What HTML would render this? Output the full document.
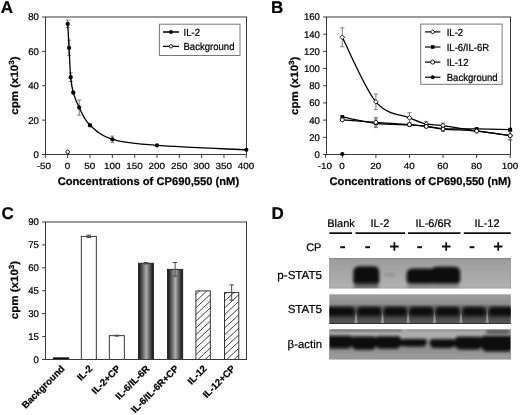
<!DOCTYPE html>
<html lang="en"><head><meta charset="utf-8"><title>CP690,550 figure</title>
<style>html,body{margin:0;padding:0;background:#fff;}body{width:520px;height:415px;overflow:hidden;}svg{display:block;font-family:"Liberation Sans", Arial, sans-serif;fill:#000;will-change:transform;filter:grayscale(1);text-rendering:geometricPrecision;}text{stroke:#000;stroke-width:0.22px;}</style>
</head><body>
<svg width="520" height="415" viewBox="0 0 520 415">
<defs>
<linearGradient id="cyl" x1="0" y1="0" x2="1" y2="0"><stop offset="0" stop-color="#141414"/><stop offset="0.1" stop-color="#2c2c2c"/><stop offset="0.3" stop-color="#686868"/><stop offset="0.52" stop-color="#adadad"/><stop offset="0.72" stop-color="#686868"/><stop offset="0.9" stop-color="#2c2c2c"/><stop offset="1" stop-color="#141414"/></linearGradient>
<pattern id="hatch" width="6" height="6" patternUnits="userSpaceOnUse" patternTransform="rotate(-42) translate(0,3.83)"><rect width="6" height="6" fill="#fff"/><path d="M-1,3 H8" stroke="#2e2e2e" stroke-width="1.05"/></pattern>
<filter id="b1" x="-20%" y="-40%" width="140%" height="180%"><feGaussianBlur stdDeviation="1.5"/></filter>
<filter id="b2" x="-20%" y="-40%" width="140%" height="180%"><feGaussianBlur stdDeviation="1.8"/></filter>
<filter id="b3" x="-20%" y="-40%" width="140%" height="180%"><feGaussianBlur stdDeviation="0.7"/></filter>
<linearGradient id="gP" x1="0" y1="0" x2="0" y2="1"><stop offset="0" stop-color="#9c9c9c"/><stop offset="1" stop-color="#b2b2b2"/></linearGradient>
<linearGradient id="gS" x1="0" y1="0" x2="0" y2="1"><stop offset="0" stop-color="#9e9e9e"/><stop offset="0.32" stop-color="#8e8e8e"/><stop offset="0.44" stop-color="#646464"/><stop offset="0.74" stop-color="#464646"/><stop offset="1" stop-color="#585858"/></linearGradient>
<linearGradient id="gB" x1="0" y1="0" x2="0" y2="1"><stop offset="0" stop-color="#ababab"/><stop offset="0.2" stop-color="#adadad"/><stop offset="0.62" stop-color="#8c8c8c"/><stop offset="1" stop-color="#9e9e9e"/></linearGradient>
<clipPath id="cP"><rect x="329.3" y="258" width="181.5" height="30.3"/></clipPath>
<clipPath id="cS"><rect x="329.3" y="294.3" width="181.5" height="29.5"/></clipPath>
<clipPath id="cB"><rect x="329.3" y="329.3" width="181.5" height="30"/></clipPath>
</defs>
<rect width="520" height="415" fill="#fff"/>
<g id="panelA">
<text x="0.8" y="13.1" font-size="17" font-weight="bold" text-anchor="start" >A</text>
<rect x="45.5" y="17" width="201" height="137.5" fill="none" stroke="#3a3a3a" stroke-width="1"/>
<path d="M42.1,154.5 H45.5" stroke="#3a3a3a" stroke-width="1"/>
<text transform="translate(38.9,157.9) scale(1,1.02)" font-size="9.6" font-weight="normal" text-anchor="end" >0</text>
<path d="M42.1,120.12 H45.5" stroke="#3a3a3a" stroke-width="1"/>
<text transform="translate(38.9,123.53) scale(1,1.02)" font-size="9.6" font-weight="normal" text-anchor="end" >20</text>
<path d="M42.1,85.75 H45.5" stroke="#3a3a3a" stroke-width="1"/>
<text transform="translate(38.9,89.15) scale(1,1.02)" font-size="9.6" font-weight="normal" text-anchor="end" >40</text>
<path d="M42.1,51.38 H45.5" stroke="#3a3a3a" stroke-width="1"/>
<text transform="translate(38.9,54.77) scale(1,1.02)" font-size="9.6" font-weight="normal" text-anchor="end" >60</text>
<path d="M42.1,17 H45.5" stroke="#3a3a3a" stroke-width="1"/>
<text transform="translate(38.9,20.4) scale(1,1.02)" font-size="9.6" font-weight="normal" text-anchor="end" >80</text>
<path d="M45.38,154.5 V157.9" stroke="#3a3a3a" stroke-width="1"/>
<text transform="translate(43.77,168.5) scale(1,0.9)" font-size="9.9" font-weight="normal" text-anchor="middle" >-50</text>
<path d="M67.7,154.5 V157.9" stroke="#3a3a3a" stroke-width="1"/>
<text transform="translate(67.5,168.5) scale(1,0.9)" font-size="9.9" font-weight="normal" text-anchor="middle" >0</text>
<path d="M90.03,154.5 V157.9" stroke="#3a3a3a" stroke-width="1"/>
<text transform="translate(89.83,168.5) scale(1,0.9)" font-size="9.9" font-weight="normal" text-anchor="middle" >50</text>
<path d="M112.35,154.5 V157.9" stroke="#3a3a3a" stroke-width="1"/>
<text transform="translate(112.15,168.5) scale(1,0.9)" font-size="9.9" font-weight="normal" text-anchor="middle" >100</text>
<path d="M134.68,154.5 V157.9" stroke="#3a3a3a" stroke-width="1"/>
<text transform="translate(134.48,168.5) scale(1,0.9)" font-size="9.9" font-weight="normal" text-anchor="middle" >150</text>
<path d="M157,154.5 V157.9" stroke="#3a3a3a" stroke-width="1"/>
<text transform="translate(156.8,168.5) scale(1,0.9)" font-size="9.9" font-weight="normal" text-anchor="middle" >200</text>
<path d="M179.33,154.5 V157.9" stroke="#3a3a3a" stroke-width="1"/>
<text transform="translate(179.13,168.5) scale(1,0.9)" font-size="9.9" font-weight="normal" text-anchor="middle" >250</text>
<path d="M201.65,154.5 V157.9" stroke="#3a3a3a" stroke-width="1"/>
<text transform="translate(201.45,168.5) scale(1,0.9)" font-size="9.9" font-weight="normal" text-anchor="middle" >300</text>
<path d="M223.98,154.5 V157.9" stroke="#3a3a3a" stroke-width="1"/>
<text transform="translate(223.78,168.5) scale(1,0.9)" font-size="9.9" font-weight="normal" text-anchor="middle" >350</text>
<path d="M246.3,154.5 V157.9" stroke="#3a3a3a" stroke-width="1"/>
<text transform="translate(246.1,168.5) scale(1,0.9)" font-size="9.9" font-weight="normal" text-anchor="middle" >400</text>
<text transform="translate(18,85.6) scale(1,1.08) rotate(-90)" font-size="10.7" font-weight="bold" text-anchor="middle">cpm (x10<tspan dy="-3.6" font-size="7.49">3</tspan><tspan dy="3.6">)</tspan></text>
<text x="148.4" y="185.1" font-size="11.2" font-weight="bold" text-anchor="middle" >Concentrations of CP690,550 (nM)</text>
<path d="M67.7,20.09 V27.66 M65.7,20.09 H69.7 M65.7,27.66 H69.7" stroke="#707070" stroke-width="0.9" fill="none"/>
<path d="M69.08,40.2 V55.67 M67.08,40.2 H71.08 M67.08,55.67 H71.08" stroke="#707070" stroke-width="0.9" fill="none"/>
<path d="M70.69,72.86 V81.45 M68.69,72.86 H72.69 M68.69,81.45 H72.69" stroke="#707070" stroke-width="0.9" fill="none"/>
<path d="M73.28,91.25 V94 M71.28,91.25 H75.28 M71.28,94 H75.28" stroke="#707070" stroke-width="0.9" fill="none"/>
<path d="M79.22,100.02 V115.14 M77.22,100.02 H81.22 M77.22,115.14 H81.22" stroke="#707070" stroke-width="0.9" fill="none"/>
<path d="M90.03,123.91 V126.66 M88.03,123.91 H92.03 M88.03,126.66 H92.03" stroke="#707070" stroke-width="0.9" fill="none"/>
<path d="M112.35,136.11 V142.64 M110.35,136.11 H114.35 M110.35,142.64 H114.35" stroke="#707070" stroke-width="0.9" fill="none"/>
<path d="M67.7,23.88 C67.93,27.89 68.59,39.06 69.08,47.94 C69.58,56.82 69.99,69.71 70.69,77.16 C71.39,84.6 71.86,87.55 73.28,92.62 C74.7,97.7 76.43,102.14 79.22,107.58 C82.01,113.02 84.5,119.98 90.03,125.28 C95.55,130.58 101.19,136.02 112.35,139.38 C123.51,142.73 134.68,143.64 157,145.39 C179.32,147.14 231.42,149.11 246.3,149.86" fill="none" stroke="#000" stroke-width="1.3" stroke-linejoin="round"/>
<circle cx="67.7" cy="23.88" r="2.1" fill="#000"/>
<circle cx="69.08" cy="47.94" r="2.1" fill="#000"/>
<circle cx="70.69" cy="77.16" r="2.1" fill="#000"/>
<circle cx="73.28" cy="92.62" r="2.1" fill="#000"/>
<circle cx="79.22" cy="107.58" r="2.1" fill="#000"/>
<circle cx="90.03" cy="125.28" r="2.1" fill="#000"/>
<circle cx="112.35" cy="139.38" r="2.1" fill="#000"/>
<circle cx="157" cy="145.39" r="2.1" fill="#000"/>
<circle cx="246.3" cy="149.86" r="2.1" fill="#000"/>
<circle cx="67.7" cy="151.92" r="1.8" fill="#fff" stroke="#000" stroke-width="0.9"/>
<rect x="159.4" y="24.2" width="80.6" height="31.3" fill="#fff" stroke="#787878" stroke-width="1"/>
<path d="M163,32 H179 M163,46.3 H179" stroke="#000" stroke-width="1.3"/>
<circle cx="171" cy="32" r="2.0" fill="#000"/>
<circle cx="171" cy="46.3" r="1.7" fill="#fff" stroke="#000" stroke-width="0.9"/>
<text transform="translate(183.5,35.8) scale(1,1.08)" font-size="9.55" font-weight="normal" text-anchor="start" >IL-2</text>
<text transform="translate(183.5,50.1) scale(1,1.08)" font-size="9.55" font-weight="normal" text-anchor="start" >Background</text>
</g>
<g id="panelB">
<text x="270.9" y="13.3" font-size="17" font-weight="bold" text-anchor="start" >B</text>
<rect x="326.5" y="17" width="184" height="137.5" fill="none" stroke="#3a3a3a" stroke-width="1"/>
<path d="M323.1,154.5 H326.5" stroke="#3a3a3a" stroke-width="1"/>
<text transform="translate(319.9,157.9) scale(1,1.02)" font-size="9.6" font-weight="normal" text-anchor="end" >0</text>
<path d="M323.1,137.31 H326.5" stroke="#3a3a3a" stroke-width="1"/>
<text transform="translate(319.9,140.71) scale(1,1.02)" font-size="9.6" font-weight="normal" text-anchor="end" >20</text>
<path d="M323.1,120.12 H326.5" stroke="#3a3a3a" stroke-width="1"/>
<text transform="translate(319.9,123.53) scale(1,1.02)" font-size="9.6" font-weight="normal" text-anchor="end" >40</text>
<path d="M323.1,102.94 H326.5" stroke="#3a3a3a" stroke-width="1"/>
<text transform="translate(319.9,106.34) scale(1,1.02)" font-size="9.6" font-weight="normal" text-anchor="end" >60</text>
<path d="M323.1,85.75 H326.5" stroke="#3a3a3a" stroke-width="1"/>
<text transform="translate(319.9,89.15) scale(1,1.02)" font-size="9.6" font-weight="normal" text-anchor="end" >80</text>
<path d="M323.1,68.56 H326.5" stroke="#3a3a3a" stroke-width="1"/>
<text transform="translate(319.9,71.96) scale(1,1.02)" font-size="9.6" font-weight="normal" text-anchor="end" >100</text>
<path d="M323.1,51.38 H326.5" stroke="#3a3a3a" stroke-width="1"/>
<text transform="translate(319.9,54.77) scale(1,1.02)" font-size="9.6" font-weight="normal" text-anchor="end" >120</text>
<path d="M323.1,34.19 H326.5" stroke="#3a3a3a" stroke-width="1"/>
<text transform="translate(319.9,37.59) scale(1,1.02)" font-size="9.6" font-weight="normal" text-anchor="end" >140</text>
<path d="M323.1,17 H326.5" stroke="#3a3a3a" stroke-width="1"/>
<text transform="translate(319.9,20.4) scale(1,1.02)" font-size="9.6" font-weight="normal" text-anchor="end" >160</text>
<path d="M325.51,154.5 V157.9" stroke="#3a3a3a" stroke-width="1"/>
<text transform="translate(324.91,168.5) scale(1,0.9)" font-size="9.9" font-weight="normal" text-anchor="middle" >-10</text>
<path d="M342.3,154.5 V157.9" stroke="#3a3a3a" stroke-width="1"/>
<text transform="translate(342.1,168.5) scale(1,0.9)" font-size="9.9" font-weight="normal" text-anchor="middle" >0</text>
<path d="M375.88,154.5 V157.9" stroke="#3a3a3a" stroke-width="1"/>
<text transform="translate(375.68,168.5) scale(1,0.9)" font-size="9.9" font-weight="normal" text-anchor="middle" >20</text>
<path d="M409.46,154.5 V157.9" stroke="#3a3a3a" stroke-width="1"/>
<text transform="translate(409.26,168.5) scale(1,0.9)" font-size="9.9" font-weight="normal" text-anchor="middle" >40</text>
<path d="M443.04,154.5 V157.9" stroke="#3a3a3a" stroke-width="1"/>
<text transform="translate(442.84,168.5) scale(1,0.9)" font-size="9.9" font-weight="normal" text-anchor="middle" >60</text>
<path d="M476.62,154.5 V157.9" stroke="#3a3a3a" stroke-width="1"/>
<text transform="translate(476.42,168.5) scale(1,0.9)" font-size="9.9" font-weight="normal" text-anchor="middle" >80</text>
<path d="M510.2,154.5 V157.9" stroke="#3a3a3a" stroke-width="1"/>
<text transform="translate(510,168.5) scale(1,0.9)" font-size="9.9" font-weight="normal" text-anchor="middle" >100</text>
<text transform="translate(297.9,85.8) scale(1,1.08) rotate(-90)" font-size="10.7" font-weight="bold" text-anchor="middle">cpm (x10<tspan dy="-3.6" font-size="7.49">3</tspan><tspan dy="3.6">)</tspan></text>
<text x="420.3" y="185.1" font-size="11.2" font-weight="bold" text-anchor="middle" >Concentrations of CP690,550 (nM)</text>
<path d="M342.3,27.83 V46.73 M340.3,27.83 H344.3 M340.3,46.73 H344.3" stroke="#707070" stroke-width="0.9" fill="none"/>
<path d="M375.88,94.09 V109.55 M373.88,94.09 H377.88 M373.88,109.55 H377.88" stroke="#707070" stroke-width="0.9" fill="none"/>
<path d="M409.46,112.73 V123.05 M407.46,112.73 H411.46 M407.46,123.05 H411.46" stroke="#707070" stroke-width="0.9" fill="none"/>
<path d="M426.25,121.41 V126.57 M424.25,121.41 H428.25 M424.25,126.57 H428.25" stroke="#707070" stroke-width="0.9" fill="none"/>
<path d="M443.04,123.05 V128.2 M441.04,123.05 H445.04 M441.04,128.2 H445.04" stroke="#707070" stroke-width="0.9" fill="none"/>
<path d="M510.2,131.3 V139.89 M508.2,131.3 H512.2 M508.2,139.89 H512.2" stroke="#707070" stroke-width="0.9" fill="none"/>
<path d="M375.88,119.01 V127.6 M373.88,119.01 H377.88 M373.88,127.6 H377.88" stroke="#707070" stroke-width="0.9" fill="none"/>
<path d="M375.88,117.63 V127.09 M373.88,117.63 H377.88 M373.88,127.09 H377.88" stroke="#707070" stroke-width="0.9" fill="none"/>
<path d="M443.04,126.48 V131.64 M441.04,126.48 H445.04 M441.04,131.64 H445.04" stroke="#707070" stroke-width="0.9" fill="none"/>
<path d="M510.2,131.3 V139.89 M508.2,131.3 H512.2 M508.2,139.89 H512.2" stroke="#707070" stroke-width="0.9" fill="none"/>
<path d="M342.3,37.28 C347.9,48.04 364.69,88.39 375.88,101.82 C387.07,115.26 401.07,114.2 409.46,117.89 C417.86,121.59 420.65,122.7 426.25,123.99 C431.85,125.28 434.64,124.48 443.04,125.62 C451.43,126.77 465.43,129.21 476.62,130.87 C487.81,132.53 504.6,134.81 510.2,135.59" fill="none" stroke="#000" stroke-width="1.3"/>
<path d="M342.3,34.98 L344.6,37.28 L342.3,39.58 L340,37.28 Z" fill="#fff" stroke="#000" stroke-width="0.9"/>
<path d="M375.88,99.52 L378.18,101.82 L375.88,104.12 L373.58,101.82 Z" fill="#fff" stroke="#000" stroke-width="0.9"/>
<path d="M409.46,115.59 L411.76,117.89 L409.46,120.19 L407.16,117.89 Z" fill="#fff" stroke="#000" stroke-width="0.9"/>
<path d="M426.25,121.69 L428.55,123.99 L426.25,126.29 L423.95,123.99 Z" fill="#fff" stroke="#000" stroke-width="0.9"/>
<path d="M443.04,123.33 L445.34,125.62 L443.04,127.92 L440.74,125.62 Z" fill="#fff" stroke="#000" stroke-width="0.9"/>
<path d="M476.62,128.57 L478.92,130.87 L476.62,133.17 L474.32,130.87 Z" fill="#fff" stroke="#000" stroke-width="0.9"/>
<path d="M510.2,133.29 L512.5,135.59 L510.2,137.89 L507.9,135.59 Z" fill="#fff" stroke="#000" stroke-width="0.9"/>
<path d="M342.3,116.95 C347.9,118.01 364.69,121.99 375.88,123.3 C387.07,124.62 401.07,124.38 409.46,124.85 C417.86,125.32 420.65,125.5 426.25,126.14 C431.85,126.79 434.64,128.26 443.04,128.72 C451.43,129.18 465.43,128.73 476.62,128.89 C487.81,129.05 504.6,129.54 510.2,129.66" fill="none" stroke="#000" stroke-width="1.3"/>
<rect x="340.4" y="115.05" width="3.8" height="3.8" fill="#000"/>
<rect x="373.98" y="121.4" width="3.8" height="3.8" fill="#000"/>
<rect x="407.56" y="122.95" width="3.8" height="3.8" fill="#000"/>
<rect x="424.35" y="124.24" width="3.8" height="3.8" fill="#000"/>
<rect x="441.14" y="126.82" width="3.8" height="3.8" fill="#000"/>
<rect x="474.72" y="126.99" width="3.8" height="3.8" fill="#000"/>
<rect x="508.3" y="127.76" width="3.8" height="3.8" fill="#000"/>
<path d="M342.3,119.78 C347.9,120.21 364.69,121.56 375.88,122.36 C387.07,123.16 401.07,123.91 409.46,124.59 C417.86,125.28 420.65,125.74 426.25,126.48 C431.85,127.23 434.64,128.29 443.04,129.06 C451.43,129.84 465.43,130.04 476.62,131.12 C487.81,132.21 504.6,134.85 510.2,135.59" fill="none" stroke="#000" stroke-width="1.3"/>
<circle cx="342.3" cy="119.78" r="1.9999999999999998" fill="#fff" stroke="#000" stroke-width="0.9"/>
<circle cx="375.88" cy="122.36" r="1.9999999999999998" fill="#fff" stroke="#000" stroke-width="0.9"/>
<circle cx="409.46" cy="124.59" r="1.9999999999999998" fill="#fff" stroke="#000" stroke-width="0.9"/>
<circle cx="426.25" cy="126.48" r="1.9999999999999998" fill="#fff" stroke="#000" stroke-width="0.9"/>
<circle cx="443.04" cy="129.06" r="1.9999999999999998" fill="#fff" stroke="#000" stroke-width="0.9"/>
<circle cx="476.62" cy="131.12" r="1.9999999999999998" fill="#fff" stroke="#000" stroke-width="0.9"/>
<circle cx="510.2" cy="135.59" r="1.9999999999999998" fill="#fff" stroke="#000" stroke-width="0.9"/>
<circle cx="342.3" cy="153.98" r="2.1" fill="#000"/>
<rect x="420.7" y="24.1" width="81.4" height="60.2" fill="#fff" stroke="#787878" stroke-width="1"/>
<path d="M425,31.9 H440.4" stroke="#000" stroke-width="1.2"/>
<path d="M432.7,29.7 L434.9,31.9 L432.7,34.1 L430.5,31.9 Z" fill="#fff" stroke="#000" stroke-width="0.9"/>
<text transform="translate(446.7,35.5) scale(1,1.08)" font-size="9.55" font-weight="normal" text-anchor="start" >IL-2</text>
<path d="M425,47 H440.4" stroke="#000" stroke-width="1.2"/>
<rect x="430.9" y="45.2" width="3.6" height="3.6" fill="#000"/>
<text transform="translate(446.7,50.6) scale(1,1.08)" font-size="9.55" font-weight="normal" text-anchor="start" >IL-6/IL-6R</text>
<path d="M425,62.1 H440.4" stroke="#000" stroke-width="1.2"/>
<circle cx="432.7" cy="62.1" r="1.9999999999999998" fill="#fff" stroke="#000" stroke-width="0.9"/>
<text transform="translate(446.7,65.7) scale(1,1.08)" font-size="9.55" font-weight="normal" text-anchor="start" >IL-12</text>
<path d="M425,77.2 H440.4" stroke="#000" stroke-width="1.2"/>
<circle cx="432.7" cy="77.2" r="2.0" fill="#000"/>
<text transform="translate(446.7,80.8) scale(1,1.08)" font-size="9.55" font-weight="normal" text-anchor="start" >Background</text>
</g>
<g id="panelC">
<text x="1.5" y="218.6" font-size="17" font-weight="bold" text-anchor="start" >C</text>
<path d="M42.1,359.5 H45.5" stroke="#3a3a3a" stroke-width="1"/>
<text transform="translate(38.9,362.9) scale(1,1.02)" font-size="9.6" font-weight="normal" text-anchor="end" >0</text>
<path d="M42.1,336.58 H45.5" stroke="#3a3a3a" stroke-width="1"/>
<text transform="translate(38.9,339.98) scale(1,1.02)" font-size="9.6" font-weight="normal" text-anchor="end" >15</text>
<path d="M42.1,313.67 H45.5" stroke="#3a3a3a" stroke-width="1"/>
<text transform="translate(38.9,317.07) scale(1,1.02)" font-size="9.6" font-weight="normal" text-anchor="end" >30</text>
<path d="M42.1,290.75 H45.5" stroke="#3a3a3a" stroke-width="1"/>
<text transform="translate(38.9,294.15) scale(1,1.02)" font-size="9.6" font-weight="normal" text-anchor="end" >45</text>
<path d="M42.1,267.83 H45.5" stroke="#3a3a3a" stroke-width="1"/>
<text transform="translate(38.9,271.23) scale(1,1.02)" font-size="9.6" font-weight="normal" text-anchor="end" >60</text>
<path d="M42.1,244.92 H45.5" stroke="#3a3a3a" stroke-width="1"/>
<text transform="translate(38.9,248.32) scale(1,1.02)" font-size="9.6" font-weight="normal" text-anchor="end" >75</text>
<path d="M42.1,222 H45.5" stroke="#3a3a3a" stroke-width="1"/>
<text transform="translate(38.9,225.4) scale(1,1.02)" font-size="9.6" font-weight="normal" text-anchor="end" >90</text>
<text transform="translate(18,290) scale(1,1.08) rotate(-90)" font-size="10.7" font-weight="bold" text-anchor="middle">cpm (x10<tspan dy="-3.6" font-size="7.49">3</tspan><tspan dy="3.6">)</tspan></text>
<rect x="53.3" y="357.82" width="15.5" height="1.68" fill="#000" stroke="#222" stroke-width="0.9"/>
<text transform="translate(65.25,369.3) rotate(-45)" font-size="9.6" font-weight="bold" text-anchor="end">Background</text>
<rect x="81.3" y="236.36" width="15" height="123.14" fill="#fff" stroke="#222" stroke-width="0.9"/>
<path d="M88.8,235.14 V237.58 M86.5,235.14 H91.1 M86.5,237.58 H91.1" stroke="#4a4a4a" stroke-width="1.0" fill="none"/>
<text transform="translate(93,369.3) rotate(-45)" font-size="9.6" font-weight="bold" text-anchor="end">IL-2</text>
<rect x="109.3" y="335.67" width="15" height="23.83" fill="#fff" stroke="#222" stroke-width="0.9"/>
<path d="M116.8,335.21 V336.12 M114.5,335.21 H119.1 M114.5,336.12 H119.1" stroke="#4a4a4a" stroke-width="1.0" fill="none"/>
<text transform="translate(121,369.3) rotate(-45)" font-size="9.6" font-weight="bold" text-anchor="end">IL-2+CP</text>
<rect x="138.5" y="263.25" width="15" height="96.25" fill="url(#cyl)" stroke="#222" stroke-width="0.9"/>
<path d="M146,262.49 V264.01 M143.7,262.49 H148.3 M143.7,264.01 H148.3" stroke="#4a4a4a" stroke-width="1.0" fill="none"/>
<text transform="translate(150.2,369.3) rotate(-45)" font-size="9.6" font-weight="bold" text-anchor="end">IL-6/IL-6R</text>
<rect x="167.5" y="269.36" width="15.2" height="90.14" fill="url(#cyl)" stroke="#222" stroke-width="0.9"/>
<path d="M175.1,262.49 V276.24 M172.8,262.49 H177.4 M172.8,276.24 H177.4" stroke="#4a4a4a" stroke-width="1.0" fill="none"/>
<text transform="translate(179.3,369.3) rotate(-45)" font-size="9.6" font-weight="bold" text-anchor="end">IL-6/IL-6R+CP</text>
<clipPath id="ch195"><rect x="195.9" y="290.9" width="14.4" height="68.6"/></clipPath>
<rect x="195.9" y="290.9" width="14.4" height="68.6" fill="#fff"/>
<path d="M194.9,295.33 L211.3,280.08 M194.9,302.03 L211.3,286.78 M194.9,308.73 L211.3,293.48 M194.9,315.43 L211.3,300.18 M194.9,322.13 L211.3,306.88 M194.9,328.83 L211.3,313.58 M194.9,335.53 L211.3,320.28 M194.9,342.23 L211.3,326.98 M194.9,348.93 L211.3,333.68 M194.9,355.63 L211.3,340.38 M194.9,362.33 L211.3,347.08 M194.9,369.03 L211.3,353.78" stroke="#343434" stroke-width="0.95" fill="none" clip-path="url(#ch195)"/>
<rect x="195.9" y="290.9" width="14.4" height="68.6" fill="none" stroke="#222" stroke-width="0.9"/>
<text transform="translate(207.3,369.3) rotate(-45)" font-size="9.6" font-weight="bold" text-anchor="end">IL-12</text>
<clipPath id="ch224"><rect x="224.5" y="292.58" width="14.3" height="66.92"/></clipPath>
<rect x="224.5" y="292.58" width="14.3" height="66.92" fill="#fff"/>
<path d="M223.5,295.53 L239.8,280.37 M223.5,302.23 L239.8,287.07 M223.5,308.93 L239.8,293.77 M223.5,315.63 L239.8,300.47 M223.5,322.33 L239.8,307.17 M223.5,329.03 L239.8,313.87 M223.5,335.73 L239.8,320.57 M223.5,342.43 L239.8,327.27 M223.5,349.13 L239.8,333.97 M223.5,355.83 L239.8,340.67 M223.5,362.53 L239.8,347.37 M223.5,369.23 L239.8,354.07" stroke="#343434" stroke-width="0.95" fill="none" clip-path="url(#ch224)"/>
<rect x="224.5" y="292.58" width="14.3" height="66.92" fill="none" stroke="#222" stroke-width="0.9"/>
<path d="M231.65,284.94 V300.22 M229.35,284.94 H233.95 M229.35,300.22 H233.95" stroke="#4a4a4a" stroke-width="1.0" fill="none"/>
<text transform="translate(235.85,369.3) rotate(-45)" font-size="9.6" font-weight="bold" text-anchor="end">IL-12+CP</text>
<rect x="45.5" y="222" width="201" height="137.5" fill="none" stroke="#3a3a3a" stroke-width="1"/>
</g>
<g id="panelD">
<text x="271.6" y="218.6" font-size="17" font-weight="bold" text-anchor="start" >D</text>
<text x="341" y="227.2" font-size="11" font-weight="normal" text-anchor="middle" >Blank</text>
<text x="380" y="227.2" font-size="11" font-weight="normal" text-anchor="middle" >IL-2</text>
<text x="433.5" y="227.2" font-size="11" font-weight="normal" text-anchor="middle" >IL-6/6R</text>
<text x="487" y="227.2" font-size="11" font-weight="normal" text-anchor="middle" >IL-12</text>
<path d="M329.3,233.1 H352 M355.5,233.1 H405 M408,233.1 H460.5 M463.8,233.1 H510.8" stroke="#111" stroke-width="1.7"/>
<text x="313.8" y="251" font-size="11" font-weight="normal" text-anchor="middle" >CP</text>
<path d="M340.2,247.2 H345" stroke="#111" stroke-width="2"/>
<path d="M365.2,247.2 H370" stroke="#111" stroke-width="2"/>
<path d="M390.1,246.5 H398.7 M394.4,242.2 V250.8" stroke="#111" stroke-width="1.8"/>
<path d="M417.2,247.2 H422" stroke="#111" stroke-width="2"/>
<path d="M441.9,246.5 H450.5 M446.2,242.2 V250.8" stroke="#111" stroke-width="1.8"/>
<path d="M469.6,247.2 H474.4" stroke="#111" stroke-width="2"/>
<path d="M493.9,246.5 H502.5 M498.2,242.2 V250.8" stroke="#111" stroke-width="1.8"/>
<text x="322" y="279.3" font-size="11.6" font-weight="normal" text-anchor="end" >p-STAT5</text>
<text x="322" y="313" font-size="11.6" font-weight="normal" text-anchor="end" >STAT5</text>
<text x="322" y="348.2" font-size="11.4" font-weight="normal" text-anchor="end" >β-actin</text>
<rect x="329.3" y="258" width="181.5" height="30.3" fill="url(#gP)"/>
<g clip-path="url(#cP)">
<rect x="329.3" y="257" width="181.5" height="2.2" fill="#8c8c8c" filter="url(#b3)"/>
<rect x="353.8" y="279" width="24.6" height="11" fill="#6a6a6a" filter="url(#b1)"/>
<rect x="407.5" y="281.5" width="51.5" height="8" fill="#8c8c8c" filter="url(#b2)"/>
<path d="M353.4,272.2 Q353.4,266.2 359.4,266.2 H373.2 Q379.2,266.2 379.2,272.2 V280.4 Q379.2,283.4 376.2,283.4 H356.4 Q353.4,283.4 353.4,280.4 Z" fill="#0b0b0b" filter="url(#b1)"/>
<g filter="url(#b1)">
<path d="M406.6,274.6 Q406.6,268.6 412.6,268.6 H429 Q435,268.6 435,274.6 V279.6 Q435,283.6 431,283.6 H410.6 Q406.6,283.6 406.6,279.6 Z" fill="#0b0b0b"/>
<path d="M430.5,272.8 Q430.5,266.8 436.5,266.8 H454.2 Q460.2,266.8 460.2,272.8 V279.6 Q460.2,283.6 456.2,283.6 H434.5 Q430.5,283.6 430.5,279.6 Z" fill="#0b0b0b"/>
<rect x="420" y="270" width="25" height="12.6" fill="#0b0b0b"/>
</g>
<rect x="383" y="273.4" width="12" height="2.6" rx="1.3" fill="#8e8e8e" filter="url(#b2)"/>
</g>
<path d="M329.6,258 V288.3 M510.5,258 V288.3 M329.3,288.1 H510.8" stroke="#909090" stroke-width="0.6" fill="none"/>
<rect x="329.3" y="294.3" width="181.5" height="29.5" fill="url(#gS)"/>
<g clip-path="url(#cS)">
<path d="M356,307 L357.8,325 H354.2 Z" fill="#909090" filter="url(#b3)"/>
<path d="M382.5,307 L384.3,325 H380.7 Z" fill="#909090" filter="url(#b3)"/>
<path d="M408.1,307 L409.9,325 H406.3 Z" fill="#909090" filter="url(#b3)"/>
<path d="M434.5,307 L436.3,325 H432.7 Z" fill="#909090" filter="url(#b3)"/>
<path d="M460.9,307 L462.7,325 H459.1 Z" fill="#909090" filter="url(#b3)"/>
<path d="M487.2,307 L489,325 H485.4 Z" fill="#909090" filter="url(#b3)"/>
<g filter="url(#b1)">
<path d="M327,310.5 Q327,307 330.5,307 H351.1 Q354.6,307 354.6,310.5 V313.5 Q354.6,316 352.1,316 H329.5 Q327,316 327,313.5 Z" fill="#0b0b0b"/>
<path d="M357.4,310.5 Q357.4,307 360.9,307 H377.7 Q381.2,307 381.2,310.5 V313.5 Q381.2,316 378.7,316 H359.9 Q357.4,316 357.4,313.5 Z" fill="#0b0b0b"/>
<path d="M383.8,310.5 Q383.8,307 387.3,307 H403.3 Q406.8,307 406.8,310.5 V313.5 Q406.8,316 404.3,316 H386.3 Q383.8,316 383.8,313.5 Z" fill="#0b0b0b"/>
<path d="M409.4,310.5 Q409.4,307 412.9,307 H429.7 Q433.2,307 433.2,310.5 V313.5 Q433.2,316 430.7,316 H411.9 Q409.4,316 409.4,313.5 Z" fill="#0b0b0b"/>
<path d="M435.8,310.5 Q435.8,307 439.3,307 H455.9 Q459.4,307 459.4,310.5 V313.5 Q459.4,316 456.9,316 H438.3 Q435.8,316 435.8,313.5 Z" fill="#0b0b0b"/>
<path d="M462.6,310.5 Q462.6,307 466.1,307 H482.1 Q485.6,307 485.6,310.5 V313.5 Q485.6,316 483.1,316 H465.1 Q462.6,316 462.6,313.5 Z" fill="#0b0b0b"/>
<path d="M488.8,310.5 Q488.8,307 492.3,307 H509.5 Q513,307 513,310.5 V313.5 Q513,316 510.5,316 H491.3 Q488.8,316 488.8,313.5 Z" fill="#0b0b0b"/>
</g>
</g>
<path d="M329.3,323.5 H510.8" stroke="#2a2a2a" stroke-width="0.9"/>
<rect x="329.3" y="329.3" width="181.5" height="30" fill="url(#gB)"/>
<g clip-path="url(#cB)">
<rect x="330" y="328.4" width="72" height="3.0" fill="#6c6c6c" filter="url(#b1)"/>
<rect x="406" y="328.8" width="106" height="2.2" fill="#8a8a8a" filter="url(#b1)"/>
<g filter="url(#b1)">
<path d="M326,338.7 Q326,335.7 329,335.7 H349.4 Q352.4,335.7 352.4,338.7 V342.5 Q352.4,348.5 346.4,348.5 H332 Q326,348.5 326,342.5 Z" fill="#0b0b0b"/>
<path d="M351.6,339.5 Q351.6,336.5 354.6,336.5 H373.2 Q376.2,336.5 376.2,339.5 V343.7 Q376.2,349.7 370.2,349.7 H357.6 Q351.6,349.7 351.6,343.7 Z" fill="#0b0b0b"/>
<path d="M375.6,339.3 Q375.6,336.3 378.6,336.3 H397.6 Q400.6,336.3 400.6,339.3 V342.7 Q400.6,348.7 394.6,348.7 H381.6 Q375.6,348.7 375.6,342.7 Z" fill="#0b0b0b"/>
<path d="M402.4,342.1 Q402.4,339.1 405.4,339.1 H424 Q427,339.1 427,342.1 V340.5 Q427,346.5 421,346.5 H408.4 Q402.4,346.5 402.4,340.5 Z" fill="#0b0b0b"/>
<path d="M429.6,342.3 Q429.6,339.3 432.6,339.3 H451.6 Q454.6,339.3 454.6,342.3 V341.9 Q454.6,347.9 448.6,347.9 H435.6 Q429.6,347.9 429.6,341.9 Z" fill="#0b0b0b"/>
<path d="M455.4,339.7 Q455.4,336.7 458.4,336.7 H479.4 Q482.4,336.7 482.4,339.7 V343.5 Q482.4,349.5 476.4,349.5 H461.4 Q455.4,349.5 455.4,343.5 Z" fill="#0b0b0b"/>
<path d="M481.6,338.7 Q481.6,335.7 484.6,335.7 H510 Q513,335.7 513,338.7 V345.5 Q513,351.5 507,351.5 H487.6 Q481.6,351.5 481.6,345.5 Z" fill="#0b0b0b"/>
<rect x="329" y="339.6" width="96.5" height="6.6" fill="#0b0b0b"/><rect x="431.5" y="339.8" width="80" height="6.8" fill="#0b0b0b"/>
</g>
<rect x="486" y="330.4" width="24" height="3.2" rx="1.6" fill="#3c3c3c" filter="url(#b1)"/>
</g>
<path d="M329.6,329.3 V359.3 M510.5,329.3 V359.3 M329.3,359.1 H510.8" stroke="#8c8c8c" stroke-width="0.6" fill="none"/>
</g>
</svg>
</body></html>
